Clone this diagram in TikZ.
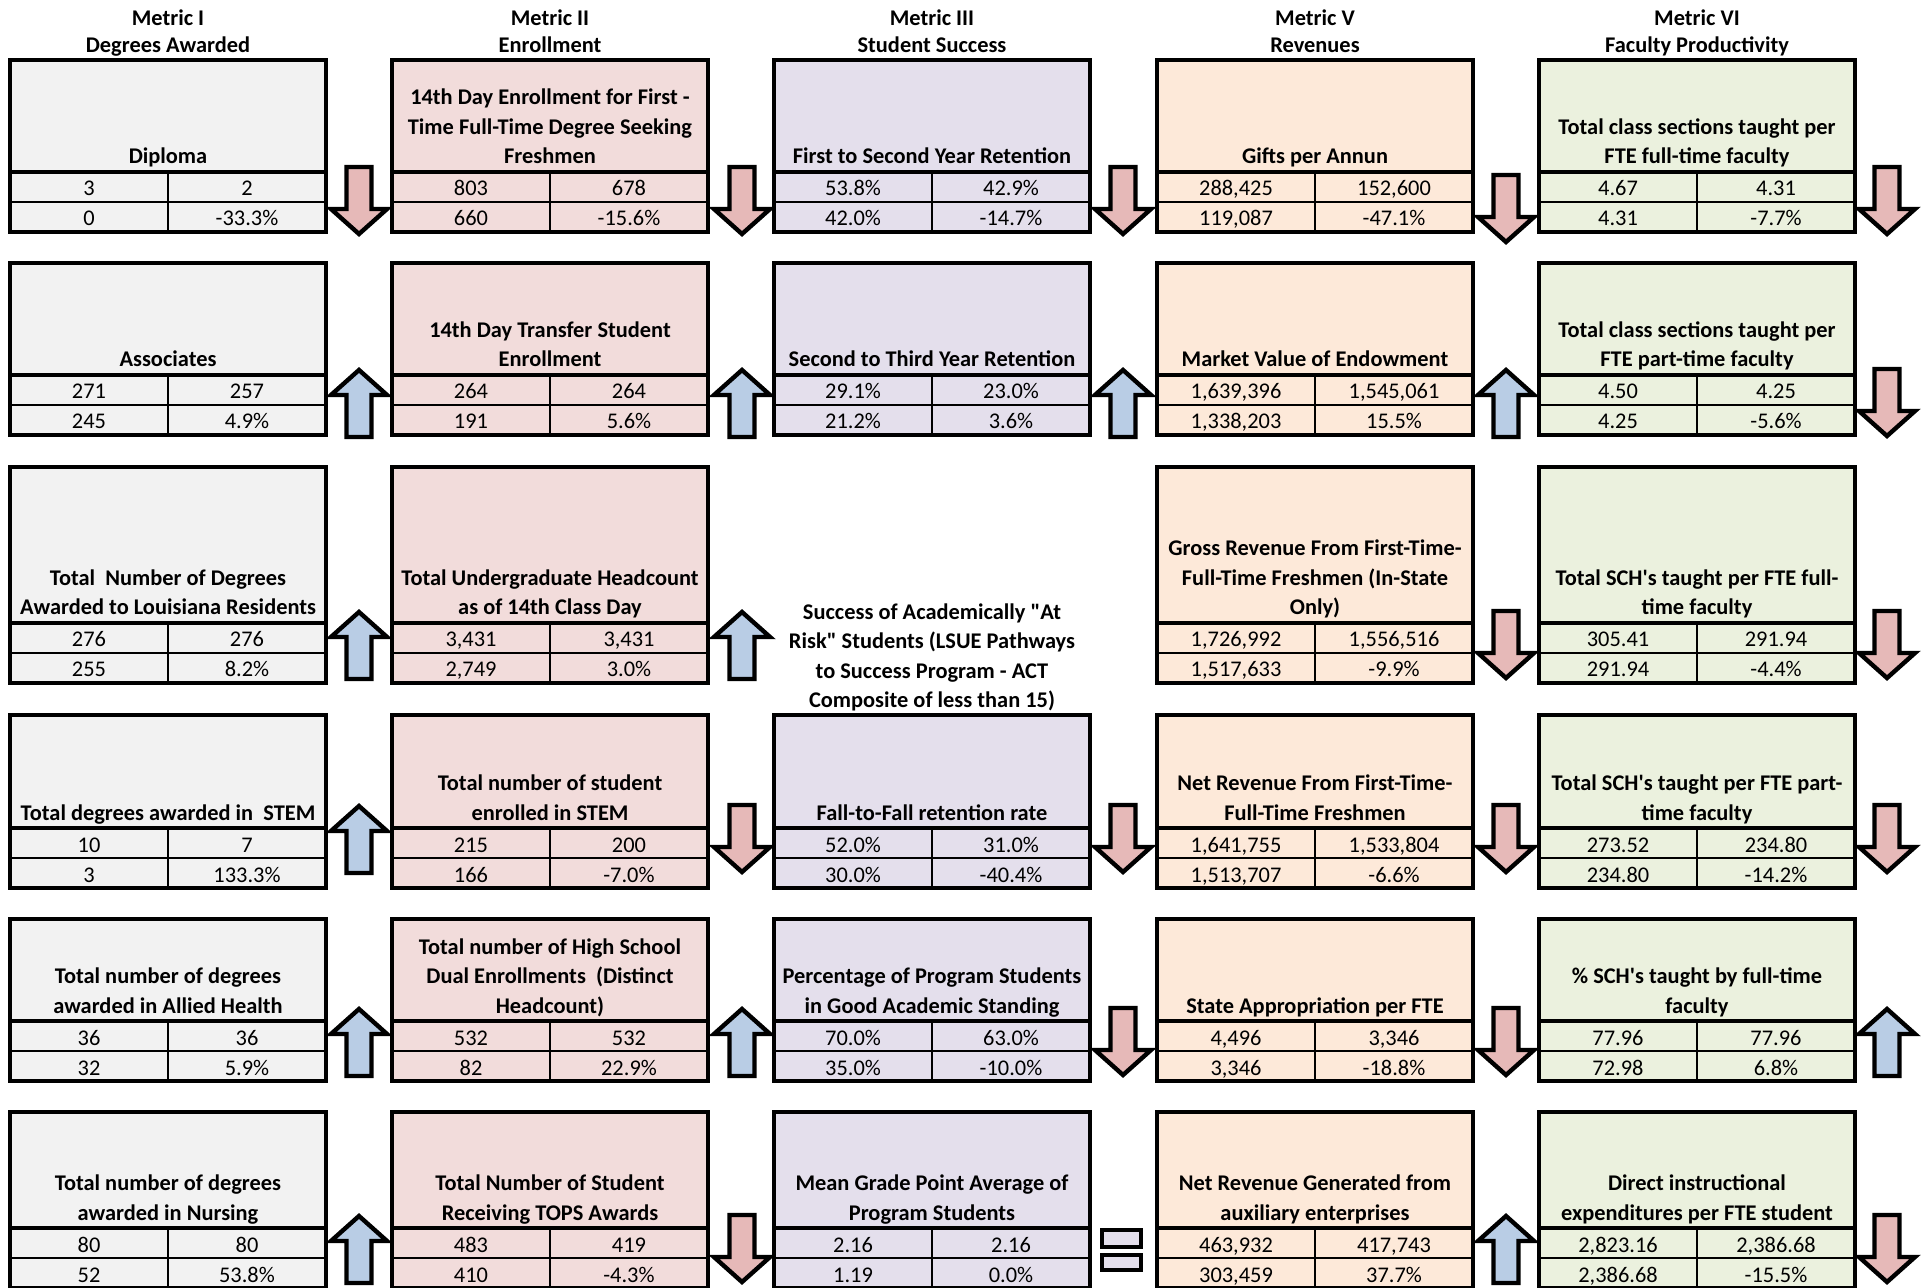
\documentclass[tikz,border=0pt]{standalone}
\usepackage{fontspec}
\setmainfont{Carlito}
\definecolor{cgray}{HTML}{F2F2F2}
\definecolor{cpink}{HTML}{F2DCDB}
\definecolor{clav}{HTML}{E4DFEC}
\definecolor{cpeach}{HTML}{FDE9D9}
\definecolor{cgreen}{HTML}{EBF1DE}
\definecolor{arrred}{HTML}{E6B9B8}
\definecolor{arrblue}{HTML}{B9CDE5}
\tikzset{
  boxline/.style={draw=black, line width=2.3pt},
  cellline/.style={draw=black, line width=1.4pt},
  arrline/.style={draw=black, line width=2.2pt, line join=miter},
  ttl/.style={anchor=base, inner sep=0pt, font=\bfseries\fontsize{11.2}{14.75}\selectfont},
  hdr/.style={anchor=base, inner sep=0pt, font=\bfseries\fontsize{11.2}{13.5}\selectfont},
  val/.style={anchor=base, inner sep=0pt, font=\fontsize{11.2}{13}\selectfont}
}
\newcommand{\metricbox}[8]{%
  \filldraw[fill=#3, boxline] (#2,\Rtop) rectangle ({#2+316},{\Rdiv+60});
  \draw[cellline] (#2,{\Rdiv+30}) -- ({#2+316},{\Rdiv+30});
  \draw[cellline] ({#2+158},\Rdiv) -- ({#2+158},{\Rdiv+60});
  \draw[boxline] (#2,\Rdiv) -- ({#2+316},\Rdiv);
  \draw[boxline] (#2,\Rtop) rectangle ({#2+316},{\Rdiv+60});
  \node[ttl] (#1-t) at ({#2+158},{\Rdiv-8}) {\parbox[b]{165pt}{\centering #4}};
  \node[val] (#1-a) at ({#2+79},{\Rdiv+24}) {#5};
  \node[val] (#1-b) at ({#2+237},{\Rdiv+24}) {#6};
  \node[val] (#1-c) at ({#2+79},{\Rdiv+54}) {#7};
  \node[val] (#1-d) at ({#2+237},{\Rdiv+54}) {#8};
}
\newcommand{\arrdn}[2]{\filldraw[arrline, fill=arrred] ({#1-12.5},{#2+2}) -- ({#1+12.5},{#2+2}) -- ({#1+12.5},{#2+44}) -- ({#1+28},{#2+44}) -- (#1,{#2+69}) -- ({#1-28},{#2+44}) -- ({#1-12.5},{#2+44}) -- cycle;}
\newcommand{\arrup}[2]{\filldraw[arrline, fill=arrblue] (#1,{#2+3}) -- ({#1+28},{#2+28}) -- ({#1+12.5},{#2+28}) -- ({#1+12.5},{#2+70}) -- ({#1-12.5},{#2+70}) -- ({#1-12.5},{#2+28}) -- ({#1-28},{#2+28}) -- cycle;}
\begin{document}
\begin{tikzpicture}[x=0.5pt,y=-0.5pt]
\useasboundingbox (0,0) rectangle (1923,1288);
\clip (0,0) rectangle (1923,1288);
\fill[white] (0,0) rectangle (1923,1288);
% headers
\node[hdr] (h1) at (168,52.5) {\parbox[b]{170pt}{\centering Metric I\\Degrees Awarded}};
\node[hdr] (h2) at (550,52.5) {\parbox[b]{170pt}{\centering Metric II\\Enrollment}};
\node[hdr] (h3) at (932,52.5) {\parbox[b]{170pt}{\centering Metric III\\Student Success}};
\node[hdr] (h4) at (1315,52.5) {\parbox[b]{170pt}{\centering Metric V\\Revenues}};
\node[hdr] (h5) at (1697,52.5) {\parbox[b]{170pt}{\centering Metric VI\\Faculty Productivity}};
% row 1
\def\Rtop{60}\def\Rdiv{172}
\metricbox{c1r1}{10}{cgray}{Diploma}{3}{2}{0}{-33.3\%}
\metricbox{c2r1}{392}{cpink}{14th Day Enrollment for First -\\Time Full-Time Degree Seeking\\Freshmen}{803}{678}{660}{-15.6\%}
\metricbox{c3r1}{774}{clav}{First to Second Year Retention}{53.8\%}{42.9\%}{42.0\%}{-14.7\%}
\metricbox{c4r1}{1157}{cpeach}{Gifts per Annun}{288,425}{152,600}{119,087}{-47.1\%}
\metricbox{c5r1}{1539}{cgreen}{Total class sections taught per\\FTE full-time faculty}{4.67}{4.31}{4.31}{-7.7\%}
\arrdn{359}{165}\arrdn{742}{165}\arrdn{1123}{165}\arrdn{1506}{173}\arrdn{1887}{165}
% row 2
\def\Rtop{263}\def\Rdiv{375}
\metricbox{c1r2}{10}{cgray}{Associates}{271}{257}{245}{4.9\%}
\metricbox{c2r2}{392}{cpink}{14th Day Transfer Student\\Enrollment}{264}{264}{191}{5.6\%}
\metricbox{c3r2}{774}{clav}{Second to Third Year Retention}{29.1\%}{23.0\%}{21.2\%}{3.6\%}
\metricbox{c4r2}{1157}{cpeach}{Market Value of Endowment}{1,639,396}{1,545,061}{1,338,203}{15.5\%}
\metricbox{c5r2}{1539}{cgreen}{Total class sections taught per\\FTE part-time faculty}{4.50}{4.25}{4.25}{-5.6\%}
\arrup{359}{367}\arrup{742}{367}\arrup{1123}{367}\arrup{1506}{367}\arrdn{1887}{367}
% row 3
\def\Rtop{467}\def\Rdiv{623}
\metricbox{c1r3}{10}{cgray}{Total~~Number of Degrees\\Awarded to Louisiana Residents}{276}{276}{255}{8.2\%}
\metricbox{c2r3}{392}{cpink}{Total Undergraduate Headcount\\as of 14th Class Day}{3,431}{3,431}{2,749}{3.0\%}
\node[ttl] (c3r3-t) at (932,708) {\parbox[b]{170pt}{\centering Success of Academically \textquotedbl At\\Risk\textquotedbl{} Students (LSUE Pathways\\to Success Program - ACT\\Composite of less than 15)}};
\metricbox{c4r3}{1157}{cpeach}{Gross Revenue From First-Time-\\Full-Time Freshmen (In-State\\Only)}{1,726,992}{1,556,516}{1,517,633}{-9.9\%}
\metricbox{c5r3}{1539}{cgreen}{Total SCH\textquotesingle s taught per FTE full-\\time faculty}{305.41}{291.94}{291.94}{-4.4\%}
\arrup{359}{609}\arrup{742}{609}\arrdn{1506}{609}\arrdn{1887}{609}
% row 4
\def\Rtop{715}\def\Rdiv{828}
\metricbox{c1r4}{10}{cgray}{Total degrees awarded in~~STEM}{10}{7}{3}{133.3\%}
\metricbox{c2r4}{392}{cpink}{Total number of student\\enrolled in STEM}{215}{200}{166}{-7.0\%}
\metricbox{c3r4}{774}{clav}{Fall-to-Fall retention rate}{52.0\%}{31.0\%}{30.0\%}{-40.4\%}
\metricbox{c4r4}{1157}{cpeach}{Net Revenue From First-Time-\\Full-Time Freshmen}{1,641,755}{1,533,804}{1,513,707}{-6.6\%}
\metricbox{c5r4}{1539}{cgreen}{Total SCH\textquotesingle s taught per FTE part-\\time faculty}{273.52}{234.80}{234.80}{-14.2\%}
\arrup{359}{803}\arrdn{742}{803}\arrdn{1123}{803}\arrdn{1506}{803}\arrdn{1887}{803}
% row 5
\def\Rtop{919}\def\Rdiv{1021}
\metricbox{c1r5}{10}{cgray}{Total number of degrees\\awarded in Allied Health}{36}{36}{32}{5.9\%}
\metricbox{c2r5}{392}{cpink}{Total number of High School\\Dual Enrollments~~(Distinct\\Headcount)}{532}{532}{82}{22.9\%}
\metricbox{c3r5}{774}{clav}{Percentage of Program Students\\in Good Academic Standing}{70.0\%}{63.0\%}{35.0\%}{-10.0\%}
\metricbox{c4r5}{1157}{cpeach}{State Appropriation per FTE}{4,496}{3,346}{3,346}{-18.8\%}
\metricbox{c5r5}{1539}{cgreen}{\% SCH\textquotesingle s taught by full-time\\faculty}{77.96}{77.96}{72.98}{6.8\%}
\arrup{359}{1006}\arrup{742}{1006}\arrdn{1123}{1006}\arrdn{1506}{1006}\arrup{1887}{1006}
% row 6
\def\Rtop{1112}\def\Rdiv{1228}
\metricbox{c1r6}{10}{cgray}{Total number of degrees\\awarded in Nursing}{80}{80}{52}{53.8\%}
\metricbox{c2r6}{392}{cpink}{Total Number of Student\\Receiving TOPS Awards}{483}{419}{410}{-4.3\%}
\metricbox{c3r6}{774}{clav}{Mean Grade Point Average of\\Program Students}{2.16}{2.16}{1.19}{0.0\%}
\metricbox{c4r6}{1157}{cpeach}{Net Revenue Generated from\\auxiliary enterprises}{463,932}{417,743}{303,459}{37.7\%}
\metricbox{c5r6}{1539}{cgreen}{Direct instructional\\expenditures per FTE student}{2,823.16}{2,386.68}{2,386.68}{-15.5\%}
\arrup{359}{1213}\arrdn{742}{1213}\arrup{1506}{1213}\arrdn{1887}{1213}
\filldraw[arrline, fill=clav] (1102,1230) rectangle (1141,1247);
\filldraw[arrline, fill=clav] (1102,1255) rectangle (1141,1270);
\end{tikzpicture}
\end{document}
